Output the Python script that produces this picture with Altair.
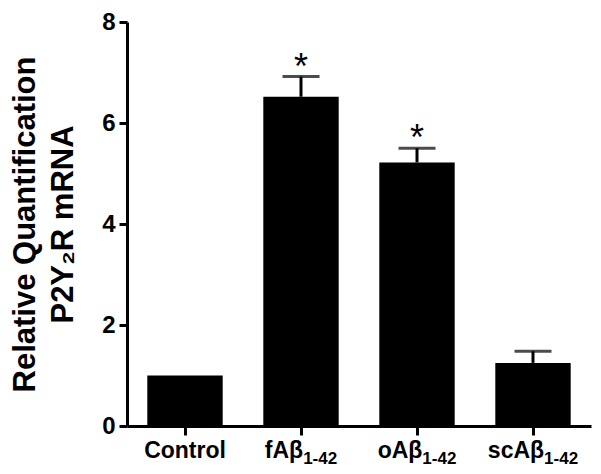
import altair as alt
import pandas as pd

groups = ["Control", "fAβ1-42", "oAβ1-42", "scAβ1-42"]
label_main = ["Control", "fAβ", "oAβ", "scAβ"]
label_sub = ["", "1-42", "1-42", "1-42"]
means = [1.0, 6.52, 5.22, 1.25]
errs = [0.0, 0.40, 0.28, 0.23]
sig = ["", "*", "*", ""]

FONT = "Liberation Sans"
MAIN_SIZE = 23
SUB_SIZE = 17
PLOT_W = 464
PLOT_H = 404
PAD_IN = 0.35
PAD_OUT = 0.175

# approximate Liberation Sans Bold advance widths (em) for centering the split labels
_w = {"C": .722, "o": .611, "n": .611, "t": .333, "r": .389, "l": .278, "f": .333,
      "A": .722, "β": .611, "s": .556, "c": .556, "1": .556, "4": .556, "2": .556, "-": .333}


def tw(s, size):
    return sum(_w.get(ch, .556) for ch in s) * size


step = PLOT_W / (len(groups) - PAD_IN + 2 * PAD_OUT)
half_band = step * (1 - PAD_IN) / 2

df = pd.DataFrame({"group": groups, "mean": means, "err": errs, "sig": sig,
                   "main": label_main, "sub": label_sub})
df["hi"] = df["mean"] + df["err"]
df["split"] = [half_band + ((tw(m, MAIN_SIZE) - tw(s, SUB_SIZE)) / 2 if s else 0)
               for m, s in zip(label_main, label_sub)]

xs = alt.X("group:N", sort=groups,
           scale=alt.Scale(paddingInner=PAD_IN, paddingOuter=PAD_OUT),
           axis=alt.Axis(title=None, labels=False,
                         domainColor="black", domainWidth=3, tickColor="black",
                         tickWidth=3, tickSize=9))

y = alt.Y("mean:Q",
          scale=alt.Scale(domain=[0, 8], nice=False),
          axis=alt.Axis(values=[0, 2, 4, 6, 8], title=["Relative Quantification", "P2Y₂R mRNA"],
                        titleFont=FONT, titleFontSize=31, titleFontWeight="bold",
                        titleColor="black", titleLineHeight=38,
                        titleX=-102, titleY=PLOT_H / 2, titleAngle=270,
                        titleAlign="center", titleBaseline="middle",
                        labelFont=FONT, labelFontSize=24, labelFontWeight="bold",
                        labelColor="black", labelPadding=4, grid=False,
                        domainColor="black", domainWidth=3, tickColor="black",
                        tickWidth=3, tickSize=8))

base = alt.Chart(df)
xg = alt.X("group:N", sort=groups)

bars = base.mark_bar(color="black").encode(x=xs, y=y)

err_df = base.transform_filter("datum.err > 0")
stems = err_df.mark_rule(color="black", strokeWidth=3).encode(x=xg, y="mean:Q", y2="hi:Q")
caps = err_df.mark_tick(color="black", size=37, thickness=3).encode(x=xg, y="hi:Q")
stars = base.mark_text(font=FONT, fontSize=36, color="black",
                       baseline="alphabetic", dy=2).encode(x=xg, y="hi:Q", text="sig:N")

ctrl_lbl = base.transform_filter("datum.sub == ''").mark_text(
    font=FONT, fontSize=MAIN_SIZE, fontWeight="bold", color="black",
    baseline="alphabetic", align="center", dy=32).encode(x=xg, y=alt.datum(0), text="main:N")
main_lbl = base.transform_filter("datum.sub != ''").mark_text(
    font=FONT, fontSize=MAIN_SIZE, fontWeight="bold", color="black",
    baseline="alphabetic", align="right", dy=32).encode(
    x=xg, xOffset=alt.XOffset("split:Q", scale=None), y=alt.datum(0), text="main:N")
sub_lbl = base.transform_filter("datum.sub != ''").mark_text(
    font=FONT, fontSize=SUB_SIZE, fontWeight="bold", color="black",
    baseline="alphabetic", align="left", dy=38).encode(
    x=xg, xOffset=alt.XOffset("split:Q", scale=None), y=alt.datum(0), text="sub:N")

chart = alt.layer(bars, stems, caps, stars, ctrl_lbl, main_lbl, sub_lbl).properties(
    width=PLOT_W, height=PLOT_H,
    autosize=alt.AutoSizeParams(type="none"),
    padding={"left": 119, "top": 14, "right": 2, "bottom": 41},
    background="white",
).configure_view(stroke=None)

chart.save("out.html", embed_options={"renderer": "svg", "actions": False})
